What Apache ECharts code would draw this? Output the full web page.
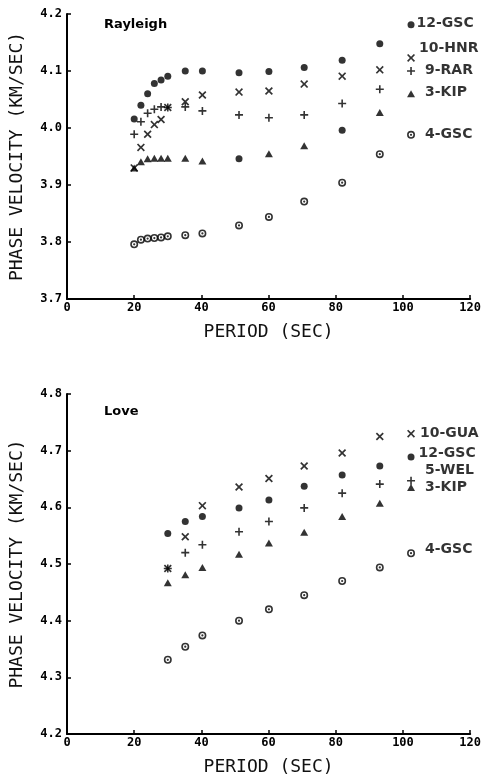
<!DOCTYPE html>
<html>
<head>
<meta charset="utf-8">
<script src="https://cdn.jsdelivr.net/npm/echarts@6/dist/echarts.min.js"></script>
<style>
  html, body { margin: 0; padding: 0; background: #fff; }
  #main { width: 484px; height: 777px; }
</style>
</head>
<body>
<div id="main"></div>
<script>
// Rayleigh waves
const rayPeriods = [20, 22, 24, 26, 28, 30, 35.2, 40.3, 51.2, 60.1, 70.6, 81.9, 93.1, 102.4];
const ray12GSC = [4.016, 4.040, 4.060, 4.078, 4.084, 4.091, 4.100, 4.100, 4.097, 4.099, 4.106, 4.119, 4.148, 4.181];
const ray10HNR = [3.930, 3.966, 3.989, 4.006, 4.015, 4.036, 4.046, 4.058, 4.063, 4.065, 4.077, 4.091, 4.102, 4.123];
const ray9RAR = [3.989, 4.011, 4.026, 4.033, 4.037, 4.036, 4.037, 4.030, 4.023, 4.018, 4.023, 4.043, 4.068, 4.100];
const ray3KIP = [3.930, 3.941, 3.946, 3.947, 3.947, 3.947, 3.947, 3.942, 3.946, 3.955, 3.969, 3.996, 4.027, 4.060];
const ray4GSC = [3.796, 3.804, 3.806, 3.807, 3.808, 3.810, 3.812, 3.815, 3.829, 3.844, 3.871, 3.904, 3.954, 3.988];

// Love waves
const lovePeriods = [30, 35.2, 40.3, 51.2, 60.1, 70.6, 81.9, 93.1, 102.4];
const love10GUA = [4.492, 4.548, 4.603, 4.636, 4.651, 4.673, 4.696, 4.725, 4.730];
const love12GSC = [4.554, 4.575, 4.584, 4.599, 4.613, 4.637, 4.657, 4.673, 4.689];
const love5WEL = [4.492, 4.520, 4.534, 4.557, 4.575, 4.599, 4.625, 4.641, 4.647];
const love3KIP = [4.467, 4.481, 4.494, 4.517, 4.537, 4.556, 4.584, 4.607, 4.635];
const love4GSC = [4.331, 4.354, 4.374, 4.400, 4.420, 4.445, 4.470, 4.494, 4.519];

const periodTicks = [0, 20, 40, 60, 80, 100, 120];

const MONO = "DejaVu Sans Mono";
const SANS = "DejaVu Sans";

// plotter-style marks
const marks = {
  dot: "circle",
  cross: "path://M-10,-7L-7,-10L0,-3L7,-10L10,-7L3,0L10,7L7,10L0,3L-7,10L-10,7L-3,0Z",
  plus: "path://M-2,-10L2,-10L2,-2L10,-2L10,2L2,2L2,10L-2,10L-2,2L-10,2L-10,-2L-2,-2Z",
  tri: "triangle",
  ring: "path://M0,-10A10,10 0 1,1 0,10A10,10 0 1,1 0,-10ZM0,-6A6,6 0 1,0 0,6A6,6 0 1,0 0,-6ZM0,-2.8A2.8,2.8 0 1,1 0,2.8A2.8,2.8 0 1,1 0,-2.8Z"
};
const sizes = { dot: 7, cross: 8, plus: 8, tri: [8, 7], ring: 8 };

const makeSeries = (name, periods, vals, mark, panel, offset, dotIdx) => ({
  name: name,
  type: "scatter",
  xAxisIndex: panel,
  yAxisIndex: panel,
  symbol: marks[mark],
  symbolSize: sizes[mark],
  itemStyle: { color: "#000" },
  label: {
    show: false,
    position: "right",
    formatter: "{a}",
    color: "#000",
    fontFamily: SANS,
    fontWeight: "bold",
    fontSize: 14
  },
  emphasis: { disabled: true },
  data: vals.map((v, i) => {
    const item = { value: [periods[i], v] };
    // a couple of KIP points were plotted as dots in the original
    if (dotIdx && dotIdx.indexOf(i) >= 0) {
      item.symbol = "circle";
      item.symbolSize = 7;
    }
    if (i === vals.length - 1) item.label = { show: true, offset: offset };
    return item;
  })
});

const xAxisOf = (grid) => ({
  type: "value",
  gridIndex: grid,
  min: 0,
  max: 120,
  interval: 20,
  name: "PERIOD (SEC)",
  nameLocation: "middle",
  nameGap: 24,
  nameTextStyle: { fontFamily: MONO, fontSize: 18, color: "#111" },
  axisLine: { show: true, onZero: false, lineStyle: { color: "#000", width: 2 } },
  axisTick: { show: true, inside: true, length: 4, lineStyle: { color: "#000", width: 1.5 } },
  axisLabel: {
    margin: 3,
    fontFamily: MONO,
    fontWeight: "bold",
    fontSize: 12,
    color: "#000",
    formatter: (v) => (periodTicks.indexOf(v) >= 0 ? String(v) : "")
  },
  splitLine: { show: false }
});

const yAxisOf = (grid, min, max) => ({
  type: "value",
  gridIndex: grid,
  min: min,
  max: max,
  interval: 0.1,
  name: "PHASE VELOCITY (KM/SEC)",
  nameLocation: "middle",
  nameGap: 41,
  nameTextStyle: { fontFamily: MONO, fontSize: 18, color: "#111" },
  axisLine: { show: true, onZero: false, lineStyle: { color: "#000", width: 2 } },
  axisTick: { show: true, inside: true, length: 4, lineStyle: { color: "#000", width: 1.5 } },
  axisLabel: {
    margin: 5,
    fontFamily: MONO,
    fontWeight: "bold",
    fontSize: 12,
    color: "#000",
    formatter: (v) => v.toFixed(1)
  },
  splitLine: { show: false }
});

const chart = echarts.init(document.getElementById("main"), null, { renderer: "canvas" });

chart.setOption({
  animation: false,
  backgroundColor: "#fff",
  title: [
    { text: "Rayleigh", left: 99, top: 13, textStyle: { fontFamily: SANS, fontWeight: "bold", fontSize: 13, color: "#000" } },
    { text: "Love", left: 99, top: 400, textStyle: { fontFamily: SANS, fontWeight: "bold", fontSize: 13, color: "#000" } }
  ],
  grid: [
    { left: 67, right: 12, top: 14, height: 285 },
    { left: 67, right: 12, top: 394, height: 342 }
  ],
  xAxis: [xAxisOf(0), xAxisOf(1)],
  yAxis: [yAxisOf(0, 3.7, 4.2), yAxisOf(1, 4.2, 4.8)],
  series: [
    makeSeries("12-GSC", rayPeriods, ray12GSC, "dot", 0, [-3, -1]),
    makeSeries("10-HNR", rayPeriods, ray10HNR, "cross", 0, [-1, -10]),
    makeSeries("9-RAR", rayPeriods, ray9RAR, "plus", 0, [5, -1]),
    makeSeries("3-KIP", rayPeriods, ray3KIP, "tri", 0, [5, -1], [8, 11]),
    makeSeries("4-GSC", rayPeriods, ray4GSC, "ring", 0, [5, 0]),

    makeSeries("10-GUA", lovePeriods, love10GUA, "cross", 1, [0, 0]),
    makeSeries("12-GSC", lovePeriods, love12GSC, "dot", 1, [-1, -4]),
    makeSeries("5-WEL", lovePeriods, love5WEL, "plus", 1, [5, -10]),
    makeSeries("3-KIP", lovePeriods, love3KIP, "tri", 1, [5, 0]),
    makeSeries("4-GSC", lovePeriods, love4GSC, "ring", 1, [5, -4])
  ]
});
</script>
</body>
</html>
